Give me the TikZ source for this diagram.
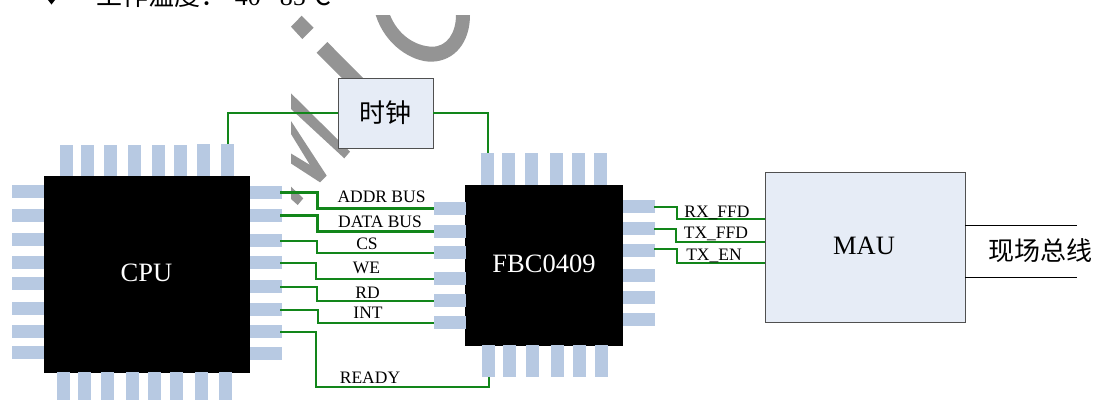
\documentclass[tikz,border=0pt]{standalone}
\usepackage{fontspec}
\setmainfont{Liberation Serif}
\newfontfamily\cjk{Noto Sans CJK SC}
\definecolor{pinblue}{HTML}{B7C9E2}
\definecolor{boxfill}{HTML}{E6ECF6}
\definecolor{boxline}{HTML}{505050}
\definecolor{wiregreen}{HTML}{12861A}
\definecolor{wmgray}{HTML}{949494}
\tikzset{
  pinbox/.style={fill=pinblue,draw=none,inner sep=0pt,outer sep=0pt,anchor=north west},
  chipbox/.style={fill=black,draw=none,inner sep=0pt,outer sep=0pt,anchor=north west,text=white,font=\fontsize{26.5}{30}\selectfont},
  blockbox/.style={fill=boxfill,draw=boxline,line width=1pt,inner sep=0pt,outer sep=0pt,anchor=north west,font=\fontsize{26.5}{30}\selectfont},
  wire/.style={draw=wiregreen,line width=2pt,line join=miter},
  buswire/.style={draw=wiregreen,line width=3pt,line join=miter},
  sig/.style={anchor=base,inner sep=0pt,font=\fontsize{17.5}{20}\selectfont},
  fieldline/.style={draw=black,line width=1pt},
  wm/.style={fill=wmgray,draw=none}
}
\newcommand{\hpin}[3]{\node[pinbox,minimum width=32pt,minimum height=13pt] (#1) at (#2,#3) {};}
\newcommand{\vpin}[4]{\node[pinbox,minimum width=13pt,minimum height=#4pt] (#1) at (#2,#3) {};}
\begin{document}
\begin{tikzpicture}[x=1pt,y=-1pt]
\useasboundingbox (0,0) rectangle (1096,400);
\fill[white] (0,0) rectangle (1096,400);
% clipped line of text above the figure
\fill[black] (48,0) -- (51.5,4.5) -- (55,0) -- (51.5,-4.5) -- cycle;
\node[anchor=base west,inner sep=0pt,font=\fontsize{26}{30}\selectfont] (topline) at (96,5)
  {{\cjk 工作温度：}-40\textasciitilde\kern5pt 85{\cjk ℃}};
% watermark
\fill[wm] (291,26.7) -- (301.7,15.7) -- (313.7,27.7) -- (302.3,39) -- cycle;
\fill[wm] (316.7,52.7) -- (327.3,42) -- (370,85) -- (349,85) -- cycle;
\fill[wm] (291,93.3) -- (350,151.7) -- (344.3,158.3) -- (291,109) -- cycle;
\fill[wm] (291,121) -- (326.7,175.7) -- (320,182.3) -- (291,163.5) -- (291,153.5) -- (310,165) -- (291,134) -- cycle;
\fill[wm] (291,186.7) -- (303.3,198.3) -- (297.7,205) -- (291,199) -- cycle;
\fill[wm] (375.7,15) .. controls (385,45) and (412,62) .. (431.7,61.7)
   .. controls (455,61) and (470,42) .. (470,15) -- (456,15)
   .. controls (456,33) and (447,47) .. (431.7,46.7)
   .. controls (415,46) and (398,35) .. (390,15) -- cycle;
% CPU
\node[chipbox,minimum width=206pt,minimum height=197pt] (cpu) at (44,176) {};
\node[text=white,inner sep=0pt,font=\fontsize{26.5}{30}\selectfont] (cpulabel) at (146.5,273) {CPU};
\vpin{ct1}{60}{145}{31}\vpin{ct2}{81}{145}{31}\vpin{ct3}{104}{145}{31}\vpin{ct4}{128}{145}{31}
\vpin{ct5}{152}{145}{31}\vpin{ct6}{174}{145}{31}\vpin{ct7}{197}{144}{32}\vpin{ct8}{221}{144}{32}
\vpin{cb1}{57}{372}{28}\vpin{cb2}{78}{372}{28}\vpin{cb3}{101}{372}{28}\vpin{cb4}{126}{372}{28}
\vpin{cb5}{148}{372}{28}\vpin{cb6}{170}{372}{28}\vpin{cb7}{195}{372}{28}\vpin{cb8}{219}{372}{28}
\hpin{cl1}{12}{185}\hpin{cl2}{12}{209}\hpin{cl3}{12}{233}\hpin{cl4}{12}{256}
\hpin{cl5}{12}{277}\hpin{cl6}{12}{302}\hpin{cl7}{12}{325}\hpin{cl8}{12}{346}
\hpin{cr1}{250}{186}\hpin{cr2}{250}{209}\hpin{cr3}{250}{234}\hpin{cr4}{250}{256}
\hpin{cr5}{250}{280}\hpin{cr6}{250}{303}\hpin{cr7}{250}{325}\hpin{cr8}{250}{347}
% FBC0409
\node[chipbox,minimum width=158pt,minimum height=161pt] (fbc) at (465,185) {};
\node[text=white,inner sep=0pt,font=\fontsize{26.5}{30}\selectfont] (fbclabel) at (544,264) {FBC0409};
\vpin{ft1}{481}{153}{32}\vpin{ft2}{502}{153}{32}\vpin{ft3}{525}{153}{32}
\vpin{ft4}{550}{153}{32}\vpin{ft5}{572}{153}{32}\vpin{ft6}{594}{153}{32}
\vpin{fb1}{482}{345}{32}\vpin{fb2}{503}{345}{32}\vpin{fb3}{526}{345}{32}
\vpin{fb4}{551}{345}{32}\vpin{fb5}{573}{345}{32}\vpin{fb6}{595}{345}{32}
\hpin{fl1}{434}{202}\hpin{fl2}{434}{225}\hpin{fl3}{434}{246}
\hpin{fl4}{434}{272}\hpin{fl5}{434}{294}\hpin{fl6}{434}{316}
\hpin{fr1}{623}{200}\hpin{fr2}{623}{222}\hpin{fr3}{623}{244}
\hpin{fr4}{623}{269}\hpin{fr5}{623}{291}\hpin{fr6}{623}{313}
% blocks
\node[blockbox,minimum width=95pt,minimum height=70pt] (clk) at (338,78) {};
\node[inner sep=0pt,font=\fontsize{26}{30}\selectfont\cjk] (clklabel) at (385.5,113) {时钟};
\node[blockbox,minimum width=200pt,minimum height=150pt] (mau) at (765,172) {};
\node[inner sep=0pt,font=\fontsize{26.5}{30}\selectfont] (maulabel) at (864,246) {MAU};
% free ends
\coordinate (m1) at (765,219);
\coordinate (m2) at (765,242);
\coordinate (m3) at (765,263);
\coordinate (rdy) at (488.5,387);
\coordinate (fa1) at (965,225.5);
\coordinate (fa2) at (1077,225.5);
\coordinate (fb1end) at (965,277);
\coordinate (fb2end) at (1077,277);
% connectors
\draw[wire] (clk.west) -| (ct8.north);
\draw[wire] (clk.east) -| (ft1.north);
\draw[buswire] ([xshift=-2pt]cr1.east) -- ++(37,0) |- (fl1.west);
\draw[buswire] ([xshift=-2pt]cr2.east) -- ++(37,0) |- (fl2.west);
\draw[wire] ([xshift=-2pt]cr3.east) -- ++(36.5,0) |- (fl3.west);
\draw[wire] ([xshift=-2pt]cr4.east) -- ++(36,0) |- (fl4.west);
\draw[wire] ([xshift=-2pt]cr5.east) -- ++(37,0) |- (fl5.west);
\draw[wire] ([xshift=-2pt]cr6.east) -- ++(38,0) |- (fl6.west);
\draw[wire] ([xshift=-2pt]cr7.east) -- ++(36,0) |- (rdy) -- (fb1.south);
\draw[wire] ([xshift=-1pt]fr1.east) -- ++(23,0) |- (m1);
\draw[wire] ([xshift=-1pt]fr2.east) -- ++(22,0) |- (m2);
\draw[wire] ([xshift=-1pt,yshift=1.2pt]fr3.east) -- ++(23,0) |- (m3);
\draw[fieldline] (fa1) -- (fa2);
\draw[fieldline] (fb1end) -- (fb2end);
% labels
\node[sig] (lb1) at (381.5,202.5) {ADDR BUS};
\node[sig] (lb2) at (380,227.5) {DATA BUS};
\node[sig] (lb3) at (367,249.5) {CS};
\node[sig] (lb4) at (366.5,273.5) {WE};
\node[sig] (lb5) at (367.5,298) {RD};
\node[sig] (lb6) at (368,318) {INT};
\node[sig] (lb7) at (370,383) {READY};
\node[sig] (lb8) at (717,217) {RX\_FFD};
\node[sig] (lb9) at (716,238.5) {TX\_FFD};
\node[sig] (lb10) at (714,260) {TX\_EN};
\node[inner sep=0pt,font=\fontsize{26}{30}\selectfont\cjk] (field) at (1040.5,251) {现场总线};
\end{tikzpicture}
\end{document}
